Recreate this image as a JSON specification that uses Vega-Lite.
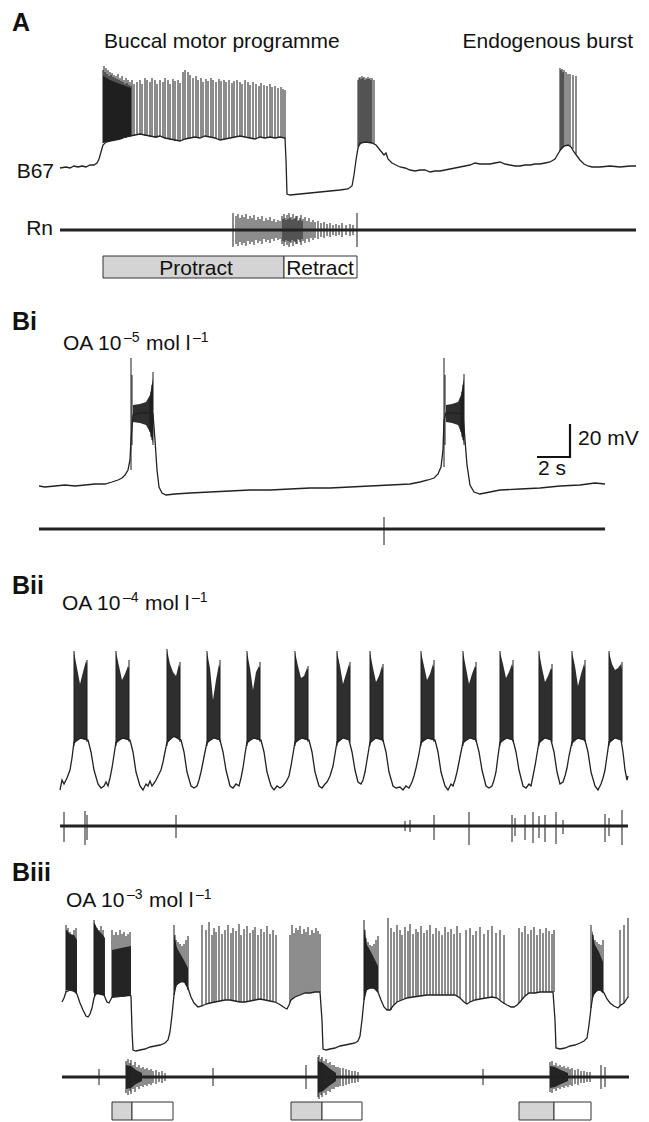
{
"$schema": "https://vega.github.io/schema/vega-lite/v6.json",
"width": 649, "height": 1122,
"autosize": {"type": "fit", "contains": "padding"},
"padding": 0,
"background": "white",
"config": {"view": {"stroke": null}, "font": "Liberation Sans"},
"datasets": {
"tr": [
{"t":"A","x":60,"y":168},{"t":"A","x":66,"y":167},{"t":"A","x":70,"y":168},{"t":"A","x":74,"y":166},{"t":"A","x":78,"y":167},{"t":"A","x":82,"y":166},{"t":"A","x":86,"y":167},{"t":"A","x":90,"y":165},{"t":"A","x":94,"y":165},{"t":"A","x":97,"y":163},{"t":"A","x":99,"y":159},{"t":"A","x":101,"y":152},{"t":"A","x":103,"y":145},{"t":"A","x":106,"y":142},{"t":"A","x":110,"y":141},{"t":"A","x":115,"y":140},{"t":"A","x":120,"y":139},{"t":"A","x":125,"y":137},{"t":"A","x":130,"y":136},{"t":"A","x":135,"y":135},{"t":"A","x":140,"y":134},{"t":"A","x":145,"y":135},{"t":"A","x":150,"y":136},{"t":"A","x":155,"y":137},{"t":"A","x":160,"y":136},{"t":"A","x":165,"y":138},{"t":"A","x":170,"y":139},{"t":"A","x":175,"y":140},{"t":"A","x":180,"y":141},{"t":"A","x":185,"y":139},{"t":"A","x":190,"y":138},{"t":"A","x":195,"y":137},{"t":"A","x":200,"y":138},{"t":"A","x":205,"y":136},{"t":"A","x":210,"y":137},{"t":"A","x":215,"y":138},{"t":"A","x":220,"y":140},{"t":"A","x":225,"y":139},{"t":"A","x":230,"y":138},{"t":"A","x":235,"y":137},{"t":"A","x":240,"y":136},{"t":"A","x":245,"y":137},{"t":"A","x":250,"y":138},{"t":"A","x":255,"y":139},{"t":"A","x":260,"y":137},{"t":"A","x":265,"y":138},{"t":"A","x":270,"y":137},{"t":"A","x":275,"y":138},{"t":"A","x":280,"y":137},{"t":"A","x":285,"y":138},{"t":"A","x":286,"y":160},{"t":"A","x":287,"y":194},{"t":"A","x":290,"y":195},{"t":"A","x":300,"y":194},{"t":"A","x":310,"y":193},{"t":"A","x":320,"y":192},{"t":"A","x":330,"y":191},{"t":"A","x":340,"y":190},{"t":"A","x":348,"y":189},{"t":"A","x":352,"y":186},{"t":"A","x":354,"y":175},{"t":"A","x":356,"y":160},{"t":"A","x":358,"y":148},{"t":"A","x":360,"y":143},{"t":"A","x":366,"y":142},{"t":"A","x":372,"y":143},{"t":"A","x":376,"y":145},{"t":"A","x":380,"y":150},{"t":"A","x":384,"y":155},{"t":"A","x":386,"y":153},{"t":"A","x":388,"y":159},{"t":"A","x":392,"y":163},{"t":"A","x":396,"y":165},{"t":"A","x":400,"y":167},{"t":"A","x":405,"y":168},{"t":"A","x":410,"y":170},{"t":"A","x":415,"y":171},{"t":"A","x":420,"y":170},{"t":"A","x":425,"y":170},{"t":"A","x":430,"y":172},{"t":"A","x":435,"y":171},{"t":"A","x":440,"y":171},{"t":"A","x":445,"y":170},{"t":"A","x":450,"y":169},{"t":"A","x":455,"y":168},{"t":"A","x":460,"y":167},{"t":"A","x":465,"y":166},{"t":"A","x":470,"y":165},{"t":"A","x":475,"y":163},{"t":"A","x":480,"y":164},{"t":"A","x":485,"y":164},{"t":"A","x":490,"y":164},{"t":"A","x":495,"y":163},{"t":"A","x":500,"y":162},{"t":"A","x":505,"y":164},{"t":"A","x":510,"y":165},{"t":"A","x":515,"y":166},{"t":"A","x":520,"y":166},{"t":"A","x":525,"y":165},{"t":"A","x":530,"y":165},{"t":"A","x":535,"y":164},{"t":"A","x":540,"y":164},{"t":"A","x":545,"y":163},{"t":"A","x":550,"y":162},{"t":"A","x":555,"y":159},{"t":"A","x":558,"y":154},{"t":"A","x":561,"y":149},{"t":"A","x":564,"y":146},{"t":"A","x":568,"y":145},{"t":"A","x":571,"y":147},{"t":"A","x":574,"y":152},{"t":"A","x":577,"y":156},{"t":"A","x":580,"y":160},{"t":"A","x":584,"y":164},{"t":"A","x":588,"y":166},{"t":"A","x":592,"y":167},{"t":"A","x":600,"y":167},{"t":"A","x":610,"y":166},{"t":"A","x":620,"y":167},{"t":"A","x":630,"y":166},{"t":"A","x":636,"y":166},
{"t":"Bi","x":39,"y":486},{"t":"Bi","x":45,"y":487},{"t":"Bi","x":55,"y":486},{"t":"Bi","x":65,"y":485},{"t":"Bi","x":75,"y":486},{"t":"Bi","x":85,"y":485},{"t":"Bi","x":95,"y":484},{"t":"Bi","x":105,"y":484},{"t":"Bi","x":112,"y":482},{"t":"Bi","x":118,"y":480},{"t":"Bi","x":122,"y":478},{"t":"Bi","x":125,"y":475},{"t":"Bi","x":128,"y":470},{"t":"Bi","x":130,"y":460},{"t":"Bi","x":131,"y":440},{"t":"Bi","x":133,"y":415},{"t":"Bi","x":140,"y":413},{"t":"Bi","x":147,"y":413},{"t":"Bi","x":153,"y":414},{"t":"Bi","x":155,"y":440},{"t":"Bi","x":157,"y":470},{"t":"Bi","x":159,"y":487},{"t":"Bi","x":162,"y":493},{"t":"Bi","x":166,"y":495},{"t":"Bi","x":175,"y":494},{"t":"Bi","x":190,"y":493},{"t":"Bi","x":210,"y":492},{"t":"Bi","x":230,"y":491},{"t":"Bi","x":250,"y":490},{"t":"Bi","x":270,"y":490},{"t":"Bi","x":290,"y":489},{"t":"Bi","x":310,"y":488},{"t":"Bi","x":330,"y":488},{"t":"Bi","x":350,"y":487},{"t":"Bi","x":370,"y":486},{"t":"Bi","x":390,"y":485},{"t":"Bi","x":410,"y":484},{"t":"Bi","x":420,"y":482},{"t":"Bi","x":428,"y":480},{"t":"Bi","x":434,"y":478},{"t":"Bi","x":438,"y":474},{"t":"Bi","x":441,"y":467},{"t":"Bi","x":443,"y":450},{"t":"Bi","x":444,"y":420},{"t":"Bi","x":446,"y":413},{"t":"Bi","x":455,"y":413},{"t":"Bi","x":463,"y":414},{"t":"Bi","x":465,"y":440},{"t":"Bi","x":467,"y":465},{"t":"Bi","x":470,"y":485},{"t":"Bi","x":474,"y":492},{"t":"Bi","x":480,"y":494},{"t":"Bi","x":490,"y":492},{"t":"Bi","x":500,"y":490},{"t":"Bi","x":520,"y":489},{"t":"Bi","x":540,"y":488},{"t":"Bi","x":560,"y":486},{"t":"Bi","x":580,"y":485},{"t":"Bi","x":595,"y":483},{"t":"Bi","x":605,"y":484},
{"t":"Bii","x":60,"y":790},{"t":"Bii","x":62,"y":780},{"t":"Bii","x":64,"y":784},{"t":"Bii","x":67,"y":778},{"t":"Bii","x":70,"y":770},{"t":"Bii","x":72,"y":758},{"t":"Bii","x":74,"y":742},{"t":"Bii","x":81,"y":738},{"t":"Bii","x":88,"y":740},{"t":"Bii","x":91,"y":752},{"t":"Bii","x":94,"y":770},{"t":"Bii","x":98,"y":784},{"t":"Bii","x":101,"y":788},{"t":"Bii","x":104,"y":786},{"t":"Bii","x":106,"y":782},{"t":"Bii","x":108,"y":786},{"t":"Bii","x":110,"y":778},{"t":"Bii","x":112,"y":768},{"t":"Bii","x":114,"y":755},{"t":"Bii","x":116,"y":742},{"t":"Bii","x":123,"y":738},{"t":"Bii","x":130,"y":740},{"t":"Bii","x":133,"y":752},{"t":"Bii","x":136,"y":772},{"t":"Bii","x":140,"y":786},{"t":"Bii","x":143,"y":790},{"t":"Bii","x":146,"y":784},{"t":"Bii","x":148,"y":786},{"t":"Bii","x":150,"y":781},{"t":"Bii","x":152,"y":786},{"t":"Bii","x":155,"y":782},{"t":"Bii","x":157,"y":778},{"t":"Bii","x":159,"y":774},{"t":"Bii","x":161,"y":770},{"t":"Bii","x":163,"y":762},{"t":"Bii","x":165,"y":752},{"t":"Bii","x":167,"y":742},{"t":"Bii","x":174,"y":736},{"t":"Bii","x":181,"y":740},{"t":"Bii","x":184,"y":752},{"t":"Bii","x":187,"y":772},{"t":"Bii","x":191,"y":786},{"t":"Bii","x":194,"y":788},{"t":"Bii","x":197,"y":786},{"t":"Bii","x":199,"y":780},{"t":"Bii","x":201,"y":772},{"t":"Bii","x":203,"y":762},{"t":"Bii","x":205,"y":752},{"t":"Bii","x":207,"y":742},{"t":"Bii","x":214,"y":738},{"t":"Bii","x":220,"y":740},{"t":"Bii","x":223,"y":752},{"t":"Bii","x":226,"y":770},{"t":"Bii","x":230,"y":786},{"t":"Bii","x":233,"y":788},{"t":"Bii","x":236,"y":784},{"t":"Bii","x":239,"y":786},{"t":"Bii","x":241,"y":778},{"t":"Bii","x":243,"y":768},{"t":"Bii","x":245,"y":754},{"t":"Bii","x":247,"y":742},{"t":"Bii","x":254,"y":738},{"t":"Bii","x":261,"y":740},{"t":"Bii","x":264,"y":752},{"t":"Bii","x":267,"y":772},{"t":"Bii","x":271,"y":786},{"t":"Bii","x":274,"y":790},{"t":"Bii","x":277,"y":786},{"t":"Bii","x":280,"y":788},{"t":"Bii","x":283,"y":786},{"t":"Bii","x":286,"y":782},{"t":"Bii","x":289,"y":776},{"t":"Bii","x":291,"y":766},{"t":"Bii","x":293,"y":754},{"t":"Bii","x":295,"y":742},{"t":"Bii","x":302,"y":738},{"t":"Bii","x":309,"y":740},{"t":"Bii","x":312,"y":752},{"t":"Bii","x":315,"y":772},{"t":"Bii","x":319,"y":786},{"t":"Bii","x":322,"y":788},{"t":"Bii","x":325,"y":784},{"t":"Bii","x":327,"y":782},{"t":"Bii","x":330,"y":776},{"t":"Bii","x":333,"y":766},{"t":"Bii","x":335,"y":754},{"t":"Bii","x":337,"y":742},{"t":"Bii","x":343,"y":738},{"t":"Bii","x":349,"y":740},{"t":"Bii","x":352,"y":752},{"t":"Bii","x":355,"y":770},{"t":"Bii","x":358,"y":782},{"t":"Bii","x":361,"y":784},{"t":"Bii","x":363,"y":780},{"t":"Bii","x":365,"y":772},{"t":"Bii","x":367,"y":760},{"t":"Bii","x":370,"y":742},{"t":"Bii","x":376,"y":738},{"t":"Bii","x":383,"y":740},{"t":"Bii","x":386,"y":752},{"t":"Bii","x":389,"y":772},{"t":"Bii","x":393,"y":786},{"t":"Bii","x":396,"y":788},{"t":"Bii","x":400,"y":787},{"t":"Bii","x":403,"y":790},{"t":"Bii","x":406,"y":786},{"t":"Bii","x":409,"y":788},{"t":"Bii","x":412,"y":782},{"t":"Bii","x":414,"y":776},{"t":"Bii","x":416,"y":768},{"t":"Bii","x":419,"y":754},{"t":"Bii","x":421,"y":742},{"t":"Bii","x":428,"y":738},{"t":"Bii","x":435,"y":740},{"t":"Bii","x":438,"y":752},{"t":"Bii","x":441,"y":772},{"t":"Bii","x":445,"y":786},{"t":"Bii","x":448,"y":790},{"t":"Bii","x":451,"y":784},{"t":"Bii","x":453,"y":786},{"t":"Bii","x":455,"y":780},{"t":"Bii","x":457,"y":772},{"t":"Bii","x":459,"y":762},{"t":"Bii","x":461,"y":752},{"t":"Bii","x":463,"y":742},{"t":"Bii","x":470,"y":738},{"t":"Bii","x":476,"y":740},{"t":"Bii","x":479,"y":752},{"t":"Bii","x":482,"y":770},{"t":"Bii","x":486,"y":786},{"t":"Bii","x":489,"y":788},{"t":"Bii","x":492,"y":786},{"t":"Bii","x":494,"y":780},{"t":"Bii","x":496,"y":772},{"t":"Bii","x":498,"y":756},{"t":"Bii","x":500,"y":742},{"t":"Bii","x":507,"y":738},{"t":"Bii","x":513,"y":740},{"t":"Bii","x":516,"y":752},{"t":"Bii","x":519,"y":770},{"t":"Bii","x":523,"y":786},{"t":"Bii","x":526,"y":788},{"t":"Bii","x":529,"y":784},{"t":"Bii","x":531,"y":786},{"t":"Bii","x":533,"y":776},{"t":"Bii","x":535,"y":766},{"t":"Bii","x":537,"y":754},{"t":"Bii","x":539,"y":742},{"t":"Bii","x":545,"y":738},{"t":"Bii","x":551,"y":740},{"t":"Bii","x":554,"y":752},{"t":"Bii","x":557,"y":772},{"t":"Bii","x":560,"y":784},{"t":"Bii","x":563,"y":782},{"t":"Bii","x":565,"y":776},{"t":"Bii","x":567,"y":768},{"t":"Bii","x":569,"y":756},{"t":"Bii","x":572,"y":742},{"t":"Bii","x":578,"y":738},{"t":"Bii","x":585,"y":740},{"t":"Bii","x":588,"y":752},{"t":"Bii","x":591,"y":772},{"t":"Bii","x":595,"y":786},{"t":"Bii","x":598,"y":790},{"t":"Bii","x":601,"y":784},{"t":"Bii","x":603,"y":778},{"t":"Bii","x":605,"y":770},{"t":"Bii","x":607,"y":756},{"t":"Bii","x":609,"y":742},{"t":"Bii","x":615,"y":738},{"t":"Bii","x":621,"y":740},{"t":"Bii","x":623,"y":752},{"t":"Bii","x":625,"y":770},{"t":"Bii","x":627,"y":780},{"t":"Bii","x":628,"y":776},
{"t":"Biii","x":62,"y":1002},{"t":"Biii","x":64,"y":998},{"t":"Biii","x":66,"y":992},{"t":"Biii","x":70,"y":990},{"t":"Biii","x":74,"y":991},{"t":"Biii","x":77,"y":994},{"t":"Biii","x":80,"y":1003},{"t":"Biii","x":83,"y":1010},{"t":"Biii","x":86,"y":1016},{"t":"Biii","x":88,"y":1017},{"t":"Biii","x":90,"y":1014},{"t":"Biii","x":92,"y":1008},{"t":"Biii","x":94,"y":998},{"t":"Biii","x":96,"y":993},{"t":"Biii","x":100,"y":994},{"t":"Biii","x":104,"y":995},{"t":"Biii","x":107,"y":1002},{"t":"Biii","x":109,"y":1003},{"t":"Biii","x":112,"y":997},{"t":"Biii","x":116,"y":996},{"t":"Biii","x":120,"y":995},{"t":"Biii","x":124,"y":996},{"t":"Biii","x":128,"y":995},{"t":"Biii","x":131,"y":996},{"t":"Biii","x":132,"y":1030},{"t":"Biii","x":133,"y":1050},{"t":"Biii","x":136,"y":1051},{"t":"Biii","x":140,"y":1050},{"t":"Biii","x":145,"y":1049},{"t":"Biii","x":150,"y":1047},{"t":"Biii","x":155,"y":1046},{"t":"Biii","x":160,"y":1045},{"t":"Biii","x":165,"y":1043},{"t":"Biii","x":168,"y":1040},{"t":"Biii","x":170,"y":1032},{"t":"Biii","x":172,"y":1015},{"t":"Biii","x":174,"y":995},{"t":"Biii","x":176,"y":985},{"t":"Biii","x":180,"y":982},{"t":"Biii","x":184,"y":981},{"t":"Biii","x":188,"y":988},{"t":"Biii","x":191,"y":997},{"t":"Biii","x":194,"y":1003},{"t":"Biii","x":198,"y":1007},{"t":"Biii","x":202,"y":1006},{"t":"Biii","x":206,"y":1004},{"t":"Biii","x":210,"y":1003},{"t":"Biii","x":215,"y":1002},{"t":"Biii","x":220,"y":1001},{"t":"Biii","x":225,"y":1000},{"t":"Biii","x":230,"y":1000},{"t":"Biii","x":235,"y":1001},{"t":"Biii","x":240,"y":1002},{"t":"Biii","x":245,"y":1002},{"t":"Biii","x":250,"y":1001},{"t":"Biii","x":255,"y":1000},{"t":"Biii","x":260,"y":999},{"t":"Biii","x":265,"y":1000},{"t":"Biii","x":270,"y":1001},{"t":"Biii","x":275,"y":1002},{"t":"Biii","x":279,"y":1004},{"t":"Biii","x":282,"y":1006},{"t":"Biii","x":285,"y":1008},{"t":"Biii","x":287,"y":1009},{"t":"Biii","x":289,"y":1005},{"t":"Biii","x":291,"y":1000},{"t":"Biii","x":295,"y":997},{"t":"Biii","x":300,"y":995},{"t":"Biii","x":305,"y":993},{"t":"Biii","x":310,"y":993},{"t":"Biii","x":315,"y":992},{"t":"Biii","x":320,"y":992},{"t":"Biii","x":322,"y":1020},{"t":"Biii","x":323,"y":1049},{"t":"Biii","x":326,"y":1050},{"t":"Biii","x":330,"y":1049},{"t":"Biii","x":335,"y":1048},{"t":"Biii","x":340,"y":1046},{"t":"Biii","x":345,"y":1045},{"t":"Biii","x":350,"y":1044},{"t":"Biii","x":355,"y":1043},{"t":"Biii","x":358,"y":1041},{"t":"Biii","x":360,"y":1036},{"t":"Biii","x":362,"y":1020},{"t":"Biii","x":364,"y":1000},{"t":"Biii","x":366,"y":990},{"t":"Biii","x":370,"y":988},{"t":"Biii","x":374,"y":988},{"t":"Biii","x":378,"y":992},{"t":"Biii","x":381,"y":1000},{"t":"Biii","x":384,"y":1007},{"t":"Biii","x":387,"y":1010},{"t":"Biii","x":390,"y":1010},{"t":"Biii","x":393,"y":1006},{"t":"Biii","x":397,"y":1002},{"t":"Biii","x":402,"y":1000},{"t":"Biii","x":407,"y":998},{"t":"Biii","x":413,"y":997},{"t":"Biii","x":420,"y":996},{"t":"Biii","x":427,"y":995},{"t":"Biii","x":434,"y":995},{"t":"Biii","x":441,"y":995},{"t":"Biii","x":448,"y":995},{"t":"Biii","x":455,"y":995},{"t":"Biii","x":460,"y":998},{"t":"Biii","x":464,"y":1002},{"t":"Biii","x":467,"y":1004},{"t":"Biii","x":470,"y":1002},{"t":"Biii","x":475,"y":1000},{"t":"Biii","x":480,"y":999},{"t":"Biii","x":486,"y":998},{"t":"Biii","x":492,"y":997},{"t":"Biii","x":497,"y":998},{"t":"Biii","x":502,"y":1002},{"t":"Biii","x":507,"y":1005},{"t":"Biii","x":511,"y":1007},{"t":"Biii","x":514,"y":1007},{"t":"Biii","x":517,"y":1005},{"t":"Biii","x":520,"y":1002},{"t":"Biii","x":524,"y":997},{"t":"Biii","x":529,"y":993},{"t":"Biii","x":535,"y":993},{"t":"Biii","x":540,"y":992},{"t":"Biii","x":546,"y":992},{"t":"Biii","x":553,"y":992},{"t":"Biii","x":555,"y":1020},{"t":"Biii","x":556,"y":1048},{"t":"Biii","x":560,"y":1049},{"t":"Biii","x":565,"y":1048},{"t":"Biii","x":570,"y":1046},{"t":"Biii","x":575,"y":1045},{"t":"Biii","x":580,"y":1043},{"t":"Biii","x":584,"y":1041},{"t":"Biii","x":587,"y":1038},{"t":"Biii","x":589,"y":1025},{"t":"Biii","x":591,"y":1008},{"t":"Biii","x":593,"y":995},{"t":"Biii","x":597,"y":990},{"t":"Biii","x":601,"y":990},{"t":"Biii","x":604,"y":993},{"t":"Biii","x":607,"y":999},{"t":"Biii","x":610,"y":1003},{"t":"Biii","x":614,"y":1006},{"t":"Biii","x":618,"y":1008},{"t":"Biii","x":621,"y":1005},{"t":"Biii","x":624,"y":1003},{"t":"Biii","x":626,"y":1000},{"t":"Biii","x":628,"y":997}
],
"rn": [
{"t":"A","x":60,"y":230},{"t":"A","x":636,"y":230},
{"t":"Bi","x":39,"y":529},{"t":"Bi","x":605,"y":529},
{"t":"Bii","x":60,"y":826},{"t":"Bii","x":628,"y":826},
{"t":"Biii","x":62,"y":1077},{"t":"Biii","x":629,"y":1077}
],
"sp": [
{"x":103,"y":70,"y2":143},{"x":104,"y":66,"y2":142},{"x":105,"y":72,"y2":142},{"x":106,"y":68,"y2":142},{"x":107,"y":74,"y2":141},{"x":108,"y":70,"y2":141},{"x":109,"y":76,"y2":141},{"x":110,"y":72,"y2":141},{"x":111,"y":75,"y2":141},{"x":112,"y":73,"y2":140},{"x":113,"y":77,"y2":140},{"x":114,"y":75,"y2":140},{"x":115,"y":78,"y2":140},{"x":116,"y":76,"y2":140},{"x":117,"y":79,"y2":140},{"x":118,"y":74,"y2":140},{"x":119,"y":80,"y2":139},{"x":120,"y":78,"y2":139},{"x":121,"y":81,"y2":139},{"x":122,"y":76,"y2":139},{"x":123,"y":82,"y2":138},{"x":124,"y":80,"y2":138},{"x":125,"y":84,"y2":138},{"x":126,"y":78,"y2":138},{"x":127,"y":83,"y2":137},{"x":128,"y":80,"y2":137},{"x":129,"y":85,"y2":137},{"x":130,"y":82,"y2":137},{"x":131,"y":86,"y2":136},{"x":132,"y":80,"y2":136},{"x":134,"y":84,"y2":136},{"x":137,"y":82,"y2":135},{"x":140,"y":80,"y2":135},{"x":142,"y":84,"y2":135},{"x":145,"y":78,"y2":136},{"x":147,"y":80,"y2":136},{"x":150,"y":82,"y2":137},{"x":152,"y":78,"y2":137},{"x":155,"y":80,"y2":138},{"x":157,"y":84,"y2":138},{"x":160,"y":80,"y2":137},{"x":163,"y":82,"y2":138},{"x":165,"y":78,"y2":139},{"x":168,"y":80,"y2":139},{"x":170,"y":84,"y2":140},{"x":173,"y":79,"y2":140},{"x":175,"y":81,"y2":141},{"x":178,"y":80,"y2":141},{"x":180,"y":83,"y2":141},{"x":183,"y":72,"y2":140},{"x":185,"y":70,"y2":139},{"x":188,"y":72,"y2":138},{"x":190,"y":75,"y2":138},{"x":193,"y":78,"y2":137},{"x":196,"y":76,"y2":138},{"x":198,"y":80,"y2":138},{"x":201,"y":78,"y2":137},{"x":203,"y":82,"y2":137},{"x":206,"y":79,"y2":137},{"x":208,"y":81,"y2":137},{"x":211,"y":78,"y2":138},{"x":213,"y":80,"y2":138},{"x":216,"y":82,"y2":139},{"x":219,"y":79,"y2":140},{"x":221,"y":81,"y2":140},{"x":224,"y":80,"y2":139},{"x":226,"y":82,"y2":139},{"x":229,"y":80,"y2":138},{"x":232,"y":83,"y2":138},{"x":234,"y":81,"y2":137},{"x":237,"y":80,"y2":137},{"x":240,"y":82,"y2":136},{"x":242,"y":84,"y2":137},{"x":245,"y":80,"y2":137},{"x":248,"y":82,"y2":138},{"x":250,"y":85,"y2":138},{"x":253,"y":82,"y2":139},{"x":256,"y":84,"y2":139},{"x":259,"y":86,"y2":138},{"x":261,"y":83,"y2":137},{"x":264,"y":85,"y2":138},{"x":267,"y":86,"y2":138},{"x":270,"y":84,"y2":137},{"x":272,"y":87,"y2":138},{"x":275,"y":86,"y2":138},{"x":278,"y":88,"y2":138},{"x":281,"y":87,"y2":137},{"x":283,"y":89,"y2":138},{"x":285,"y":90,"y2":139},
{"x":358,"y":80,"y2":147},{"x":359,"y":78,"y2":146},{"x":360,"y":77,"y2":145},{"x":361,"y":79,"y2":144},{"x":362,"y":76,"y2":143},{"x":363,"y":78,"y2":143},{"x":364,"y":77,"y2":143},{"x":365,"y":80,"y2":142},{"x":366,"y":78,"y2":142},{"x":367,"y":79,"y2":142},{"x":368,"y":77,"y2":142},{"x":369,"y":79,"y2":142},{"x":370,"y":78,"y2":143},{"x":371,"y":80,"y2":143},{"x":372,"y":78,"y2":143},{"x":374,"y":80,"y2":144},
{"x":560,"y":68,"y2":151},{"x":561,"y":70,"y2":150},{"x":562,"y":69,"y2":149},{"x":563,"y":72,"y2":148},{"x":564,"y":70,"y2":147},{"x":566,"y":72,"y2":146},{"x":568,"y":74,"y2":145},{"x":570,"y":74,"y2":146},{"x":573,"y":75,"y2":149},{"x":576,"y":76,"y2":154},
{"x":233,"y":213,"y2":247},{"x":236,"y":216,"y2":244},{"x":238,"y":214,"y2":246},{"x":240,"y":218,"y2":242},{"x":242,"y":215,"y2":245},{"x":244,"y":217,"y2":243},{"x":246,"y":214,"y2":246},{"x":248,"y":219,"y2":241},{"x":250,"y":216,"y2":244},{"x":252,"y":218,"y2":242},{"x":254,"y":215,"y2":245},{"x":256,"y":220,"y2":240},{"x":258,"y":217,"y2":243},{"x":260,"y":219,"y2":241},{"x":262,"y":216,"y2":244},{"x":264,"y":221,"y2":239},{"x":266,"y":218,"y2":242},{"x":268,"y":220,"y2":240},{"x":270,"y":217,"y2":243},{"x":272,"y":221,"y2":239},{"x":274,"y":219,"y2":241},{"x":276,"y":222,"y2":238},{"x":278,"y":220,"y2":240},{"x":280,"y":221,"y2":239},{"x":282,"y":216,"y2":244},{"x":283,"y":219,"y2":241},{"x":284,"y":214,"y2":246},{"x":285,"y":218,"y2":242},{"x":286,"y":220,"y2":240},{"x":287,"y":215,"y2":245},{"x":288,"y":219,"y2":241},{"x":289,"y":213,"y2":247},{"x":290,"y":218,"y2":242},{"x":291,"y":217,"y2":243},{"x":292,"y":220,"y2":240},{"x":293,"y":214,"y2":246},{"x":294,"y":219,"y2":241},{"x":295,"y":218,"y2":242},{"x":296,"y":216,"y2":244},{"x":297,"y":216,"y2":244},{"x":298,"y":221,"y2":239},{"x":299,"y":220,"y2":240},{"x":300,"y":218,"y2":242},{"x":301,"y":215,"y2":245},{"x":302,"y":221,"y2":239},{"x":303,"y":219,"y2":241},{"x":305,"y":217,"y2":243},{"x":307,"y":221,"y2":239},{"x":309,"y":218,"y2":242},{"x":311,"y":222,"y2":238},{"x":313,"y":220,"y2":240},{"x":315,"y":222,"y2":238},{"x":318,"y":221,"y2":239},{"x":321,"y":223,"y2":237},{"x":324,"y":222,"y2":238},{"x":327,"y":224,"y2":236},{"x":330,"y":223,"y2":237},{"x":333,"y":225,"y2":235},{"x":336,"y":224,"y2":236},{"x":339,"y":225,"y2":235},{"x":342,"y":223,"y2":237},{"x":346,"y":225,"y2":235},{"x":350,"y":224,"y2":236},{"x":353,"y":225,"y2":235},{"x":357,"y":213,"y2":247},
{"x":131,"y":358,"y2":470},{"x":132,"y":375,"y2":445},{"x":150,"y":398,"y2":432},{"x":151,"y":392,"y2":437},{"x":152,"y":385,"y2":440},{"x":153,"y":372,"y2":445},{"x":444,"y":358,"y2":467},{"x":445,"y":375,"y2":445},{"x":461,"y":398,"y2":432},{"x":462,"y":392,"y2":437},{"x":463,"y":385,"y2":440},{"x":464,"y":374,"y2":445},
{"x":384,"y":517,"y2":545},
{"x":74,"y":651,"y2":746},{"x":87,"y":660,"y2":742},
{"x":116,"y":651,"y2":746},{"x":129,"y":660,"y2":742},
{"x":167,"y":649,"y2":746},{"x":180,"y":662,"y2":742},
{"x":207,"y":651,"y2":746},{"x":220,"y":660,"y2":742},
{"x":247,"y":651,"y2":746},{"x":260,"y":662,"y2":742},
{"x":295,"y":651,"y2":746},{"x":308,"y":666,"y2":742},
{"x":337,"y":651,"y2":746},{"x":350,"y":662,"y2":742},
{"x":370,"y":651,"y2":746},{"x":383,"y":664,"y2":742},
{"x":421,"y":651,"y2":746},{"x":434,"y":660,"y2":742},
{"x":463,"y":651,"y2":746},{"x":476,"y":662,"y2":742},
{"x":500,"y":651,"y2":746},{"x":513,"y":660,"y2":742},
{"x":539,"y":651,"y2":746},{"x":552,"y":664,"y2":742},
{"x":572,"y":651,"y2":746},{"x":585,"y":660,"y2":742},
{"x":609,"y":651,"y2":746},{"x":622,"y":662,"y2":742},
{"x":64,"y":812,"y2":842},{"x":85,"y":811,"y2":845},{"x":87,"y":815,"y2":840},{"x":176,"y":815,"y2":838},{"x":405,"y":821,"y2":831},{"x":410,"y":820,"y2":832},{"x":434,"y":815,"y2":840},{"x":469,"y":812,"y2":845},{"x":512,"y":815,"y2":842},{"x":515,"y":818,"y2":836},{"x":525,"y":815,"y2":840},{"x":533,"y":812,"y2":843},{"x":539,"y":816,"y2":838},{"x":545,"y":815,"y2":842},{"x":556,"y":812,"y2":844},{"x":563,"y":820,"y2":834},{"x":605,"y":814,"y2":842},{"x":609,"y":818,"y2":836},{"x":622,"y":810,"y2":845},
{"x":66,"y":925,"y2":992},{"x":67,"y":930,"y2":990},{"x":68,"y":928,"y2":990},{"x":70,"y":932,"y2":990},{"x":72,"y":935,"y2":990},{"x":74,"y":930,"y2":992},{"x":76,"y":928,"y2":993},
{"x":94,"y":920,"y2":993},{"x":95,"y":925,"y2":993},{"x":97,"y":928,"y2":994},{"x":99,"y":930,"y2":994},{"x":101,"y":926,"y2":995},{"x":103,"y":930,"y2":995},
{"x":112,"y":930,"y2":997},{"x":114,"y":935,"y2":997},{"x":116,"y":932,"y2":996},{"x":118,"y":935,"y2":996},{"x":120,"y":930,"y2":996},{"x":122,"y":934,"y2":995},{"x":124,"y":932,"y2":995},{"x":126,"y":936,"y2":995},{"x":128,"y":934,"y2":995},{"x":130,"y":932,"y2":995},
{"x":174,"y":925,"y2":995},{"x":175,"y":935,"y2":985},{"x":176,"y":940,"y2":983},{"x":178,"y":942,"y2":982},{"x":180,"y":944,"y2":981},{"x":182,"y":946,"y2":980},{"x":184,"y":944,"y2":982},{"x":186,"y":940,"y2":985},{"x":188,"y":936,"y2":990},
{"x":202,"y":925,"y2":1006},{"x":206,"y":930,"y2":1004},{"x":209,"y":922,"y2":1003},{"x":212,"y":935,"y2":1003},{"x":214,"y":928,"y2":1002},{"x":216,"y":932,"y2":1002},{"x":219,"y":926,"y2":1001},{"x":222,"y":934,"y2":1001},{"x":225,"y":930,"y2":1000},{"x":228,"y":925,"y2":1000},{"x":231,"y":933,"y2":1000},{"x":233,"y":928,"y2":1001},{"x":236,"y":931,"y2":1001},{"x":239,"y":924,"y2":1002},{"x":241,"y":935,"y2":1002},{"x":244,"y":929,"y2":1002},{"x":247,"y":926,"y2":1002},{"x":250,"y":933,"y2":1001},{"x":253,"y":930,"y2":1000},{"x":255,"y":927,"y2":1000},{"x":258,"y":935,"y2":999},{"x":261,"y":929,"y2":999},{"x":264,"y":932,"y2":1000},{"x":267,"y":926,"y2":1000},{"x":270,"y":934,"y2":1001},{"x":273,"y":930,"y2":1001},{"x":276,"y":935,"y2":1002},{"x":290,"y":935,"y2":1002},{"x":292,"y":925,"y2":999},{"x":294,"y":933,"y2":998},{"x":296,"y":928,"y2":997},{"x":298,"y":930,"y2":996},{"x":300,"y":926,"y2":995},{"x":302,"y":934,"y2":994},{"x":304,"y":929,"y2":993},{"x":306,"y":932,"y2":993},{"x":308,"y":927,"y2":993},{"x":310,"y":935,"y2":993},{"x":312,"y":930,"y2":993},{"x":314,"y":933,"y2":992},{"x":316,"y":928,"y2":992},{"x":318,"y":931,"y2":992},{"x":320,"y":934,"y2":992},
{"x":364,"y":920,"y2":1000},{"x":365,"y":930,"y2":995},{"x":366,"y":938,"y2":990},{"x":368,"y":942,"y2":989},{"x":370,"y":945,"y2":988},{"x":372,"y":946,"y2":988},{"x":374,"y":944,"y2":988},{"x":376,"y":940,"y2":990},{"x":378,"y":936,"y2":992},
{"x":388,"y":918,"y2":1010},{"x":391,"y":928,"y2":1010},{"x":394,"y":932,"y2":1005},{"x":397,"y":925,"y2":1002},{"x":400,"y":930,"y2":1001},{"x":402,"y":935,"y2":1000},{"x":405,"y":927,"y2":999},{"x":408,"y":931,"y2":998},{"x":410,"y":924,"y2":998},{"x":413,"y":934,"y2":997},{"x":416,"y":929,"y2":997},{"x":418,"y":932,"y2":996},{"x":421,"y":926,"y2":996},{"x":424,"y":933,"y2":996},{"x":427,"y":930,"y2":995},{"x":430,"y":925,"y2":995},{"x":433,"y":934,"y2":995},{"x":436,"y":928,"y2":995},{"x":439,"y":931,"y2":995},{"x":442,"y":935,"y2":995},{"x":445,"y":927,"y2":995},{"x":448,"y":932,"y2":995},{"x":451,"y":929,"y2":995},{"x":454,"y":934,"y2":995},{"x":457,"y":926,"y2":996},{"x":460,"y":933,"y2":998},{"x":466,"y":930,"y2":1003},{"x":470,"y":928,"y2":1002},{"x":473,"y":935,"y2":1001},{"x":476,"y":931,"y2":1000},{"x":480,"y":927,"y2":999},{"x":484,"y":934,"y2":998},{"x":488,"y":930,"y2":998},{"x":492,"y":926,"y2":997},{"x":496,"y":933,"y2":998},{"x":500,"y":930,"y2":1000},{"x":504,"y":935,"y2":1004},{"x":519,"y":928,"y2":1003},{"x":522,"y":932,"y2":1000},{"x":525,"y":926,"y2":996},{"x":528,"y":934,"y2":994},{"x":531,"y":930,"y2":993},{"x":534,"y":927,"y2":993},{"x":537,"y":935,"y2":993},{"x":540,"y":929,"y2":992},{"x":543,"y":933,"y2":992},{"x":546,"y":928,"y2":992},{"x":549,"y":931,"y2":992},{"x":552,"y":934,"y2":992},{"x":554,"y":930,"y2":992},
{"x":591,"y":925,"y2":1008},{"x":593,"y":935,"y2":995},{"x":595,"y":940,"y2":993},{"x":597,"y":942,"y2":990},{"x":599,"y":944,"y2":990},{"x":601,"y":945,"y2":990},{"x":603,"y":940,"y2":993},
{"x":620,"y":930,"y2":1006},{"x":624,"y":925,"y2":1003},{"x":628,"y":918,"y2":998},
{"x":99,"y":1069,"y2":1085},{"x":126,"y":1061,"y2":1093},{"x":128,"y":1059,"y2":1095},{"x":130,"y":1063,"y2":1091},{"x":131,"y":1060,"y2":1094},{"x":133,"y":1065,"y2":1089},{"x":135,"y":1062,"y2":1092},{"x":137,"y":1067,"y2":1087},{"x":139,"y":1065,"y2":1089},{"x":141,"y":1068,"y2":1086},{"x":143,"y":1067,"y2":1087},{"x":145,"y":1069,"y2":1085},{"x":147,"y":1068,"y2":1086},{"x":149,"y":1070,"y2":1084},{"x":151,"y":1069,"y2":1085},{"x":153,"y":1071,"y2":1083},{"x":156,"y":1070,"y2":1084},{"x":159,"y":1072,"y2":1082},{"x":162,"y":1071,"y2":1083},{"x":165,"y":1073,"y2":1081},{"x":213,"y":1068,"y2":1086},{"x":306,"y":1065,"y2":1089},
{"x":318,"y":1057,"y2":1097},{"x":319,"y":1055,"y2":1099},{"x":321,"y":1059,"y2":1095},{"x":322,"y":1057,"y2":1097},{"x":324,"y":1061,"y2":1093},{"x":326,"y":1059,"y2":1095},{"x":328,"y":1063,"y2":1091},{"x":330,"y":1062,"y2":1092},{"x":332,"y":1065,"y2":1089},{"x":334,"y":1065,"y2":1089},{"x":336,"y":1067,"y2":1087},{"x":338,"y":1067,"y2":1087},{"x":340,"y":1068,"y2":1086},{"x":343,"y":1068,"y2":1086},{"x":346,"y":1069,"y2":1085},{"x":349,"y":1070,"y2":1084},{"x":352,"y":1071,"y2":1083},{"x":355,"y":1071,"y2":1083},{"x":358,"y":1072,"y2":1082},{"x":483,"y":1069,"y2":1085},
{"x":550,"y":1062,"y2":1092},{"x":552,"y":1061,"y2":1093},{"x":554,"y":1065,"y2":1089},{"x":556,"y":1063,"y2":1091},{"x":558,"y":1066,"y2":1088},{"x":560,"y":1065,"y2":1089},{"x":562,"y":1067,"y2":1087},{"x":564,"y":1066,"y2":1088},{"x":566,"y":1068,"y2":1086},{"x":568,"y":1067,"y2":1087},{"x":570,"y":1069,"y2":1085},{"x":572,"y":1068,"y2":1086},{"x":575,"y":1070,"y2":1084},{"x":578,"y":1069,"y2":1085},{"x":581,"y":1071,"y2":1083},{"x":584,"y":1071,"y2":1083},{"x":587,"y":1072,"y2":1082},{"x":590,"y":1072,"y2":1082},{"x":601,"y":1065,"y2":1089},{"x":605,"y":1067,"y2":1087}
],
"ar": [
{"b":"A1","x":103,"y":76,"y2":143},{"b":"A1","x":110,"y":80,"y2":141},{"b":"A1","x":120,"y":84,"y2":139},{"b":"A1","x":131,"y":88,"y2":136},
{"b":"Bi1","x":133,"y":405,"y2":422},{"b":"Bi1","x":140,"y":404,"y2":423},{"b":"Bi1","x":146,"y":402,"y2":425},{"b":"Bi1","x":150,"y":395,"y2":432},{"b":"Bi1","x":153,"y":378,"y2":443},
{"b":"Bi2","x":446,"y":405,"y2":422},{"b":"Bi2","x":452,"y":404,"y2":423},{"b":"Bi2","x":458,"y":402,"y2":425},{"b":"Bi2","x":461,"y":395,"y2":432},{"b":"Bi2","x":464,"y":378,"y2":443},
{"b":"b1","x":74,"y":652,"y2":744},{"b":"b1","x":77,"y":668,"y2":741},{"b":"b1","x":80,"y":684,"y2":738},{"b":"b1","x":83,"y":672,"y2":739},{"b":"b1","x":86,"y":661,"y2":740},{"b":"b1","x":87,"y":664,"y2":741},
{"b":"b2","x":116,"y":652,"y2":744},{"b":"b2","x":119,"y":666,"y2":741},{"b":"b2","x":122,"y":680,"y2":738},{"b":"b2","x":125,"y":674,"y2":739},{"b":"b2","x":128,"y":666,"y2":740},{"b":"b2","x":129,"y":668,"y2":741},
{"b":"b3","x":167,"y":650,"y2":744},{"b":"b3","x":170,"y":664,"y2":740},{"b":"b3","x":173,"y":672,"y2":737},{"b":"b3","x":176,"y":676,"y2":738},{"b":"b3","x":179,"y":664,"y2":740},{"b":"b3","x":180,"y":668,"y2":741},
{"b":"b4","x":207,"y":652,"y2":744},{"b":"b4","x":210,"y":668,"y2":741},{"b":"b4","x":213,"y":700,"y2":738},{"b":"b4","x":216,"y":680,"y2":739},{"b":"b4","x":219,"y":664,"y2":740},{"b":"b4","x":220,"y":668,"y2":741},
{"b":"b5","x":247,"y":652,"y2":744},{"b":"b5","x":250,"y":668,"y2":741},{"b":"b5","x":253,"y":690,"y2":738},{"b":"b5","x":256,"y":672,"y2":739},{"b":"b5","x":259,"y":666,"y2":740},{"b":"b5","x":260,"y":668,"y2":741},
{"b":"b6","x":295,"y":652,"y2":744},{"b":"b6","x":298,"y":666,"y2":741},{"b":"b6","x":301,"y":678,"y2":738},{"b":"b6","x":304,"y":676,"y2":739},{"b":"b6","x":307,"y":668,"y2":740},{"b":"b6","x":308,"y":670,"y2":741},
{"b":"b7","x":337,"y":652,"y2":744},{"b":"b7","x":340,"y":666,"y2":741},{"b":"b7","x":343,"y":684,"y2":738},{"b":"b7","x":346,"y":674,"y2":739},{"b":"b7","x":349,"y":664,"y2":740},{"b":"b7","x":350,"y":668,"y2":741},
{"b":"b8","x":370,"y":652,"y2":744},{"b":"b8","x":373,"y":668,"y2":741},{"b":"b8","x":376,"y":682,"y2":738},{"b":"b8","x":379,"y":676,"y2":739},{"b":"b8","x":382,"y":666,"y2":740},{"b":"b8","x":383,"y":670,"y2":741},
{"b":"b9","x":421,"y":652,"y2":744},{"b":"b9","x":424,"y":666,"y2":741},{"b":"b9","x":427,"y":680,"y2":738},{"b":"b9","x":430,"y":674,"y2":739},{"b":"b9","x":433,"y":664,"y2":740},{"b":"b9","x":434,"y":668,"y2":741},
{"b":"b10","x":463,"y":652,"y2":744},{"b":"b10","x":466,"y":668,"y2":741},{"b":"b10","x":469,"y":684,"y2":738},{"b":"b10","x":472,"y":674,"y2":739},{"b":"b10","x":475,"y":666,"y2":740},{"b":"b10","x":476,"y":668,"y2":741},
{"b":"b11","x":500,"y":652,"y2":744},{"b":"b11","x":503,"y":664,"y2":741},{"b":"b11","x":506,"y":678,"y2":738},{"b":"b11","x":509,"y":672,"y2":739},{"b":"b11","x":512,"y":664,"y2":740},{"b":"b11","x":513,"y":668,"y2":741},
{"b":"b12","x":539,"y":652,"y2":744},{"b":"b12","x":542,"y":668,"y2":741},{"b":"b12","x":545,"y":682,"y2":738},{"b":"b12","x":548,"y":676,"y2":739},{"b":"b12","x":551,"y":668,"y2":740},{"b":"b12","x":552,"y":670,"y2":741},
{"b":"b13","x":572,"y":652,"y2":744},{"b":"b13","x":575,"y":666,"y2":741},{"b":"b13","x":578,"y":686,"y2":738},{"b":"b13","x":581,"y":674,"y2":739},{"b":"b13","x":584,"y":664,"y2":740},{"b":"b13","x":585,"y":668,"y2":741},
{"b":"b14","x":609,"y":652,"y2":744},{"b":"b14","x":612,"y":664,"y2":741},{"b":"b14","x":615,"y":670,"y2":738},{"b":"b14","x":618,"y":668,"y2":739},{"b":"b14","x":621,"y":664,"y2":740},{"b":"b14","x":622,"y":670,"y2":741},
{"b":"c1","x":66,"y":930,"y2":990},{"b":"c1","x":70,"y":934,"y2":990},{"b":"c1","x":74,"y":935,"y2":991},{"b":"c1","x":77,"y":940,"y2":994},
{"b":"c2","x":94,"y":922,"y2":996},{"b":"c2","x":98,"y":930,"y2":994},{"b":"c2","x":102,"y":934,"y2":995},{"b":"c2","x":105,"y":938,"y2":996},
{"b":"c3","x":112,"y":950,"y2":998},{"b":"c3","x":121,"y":948,"y2":997},{"b":"c3","x":131,"y":946,"y2":996},
{"b":"c4","x":174,"y":935,"y2":992},{"b":"c4","x":177,"y":948,"y2":985},{"b":"c4","x":181,"y":955,"y2":982},{"b":"c4","x":185,"y":962,"y2":983},{"b":"c4","x":188,"y":968,"y2":990},
{"b":"c5","x":364,"y":928,"y2":1000},{"b":"c5","x":367,"y":945,"y2":990},{"b":"c5","x":371,"y":952,"y2":988},{"b":"c5","x":375,"y":960,"y2":989},{"b":"c5","x":378,"y":966,"y2":993},
{"b":"c6","x":592,"y":930,"y2":1000},{"b":"c6","x":595,"y":945,"y2":993},{"b":"c6","x":599,"y":952,"y2":990},{"b":"c6","x":603,"y":962,"y2":993},
{"b":"r1","x":126,"y":1065,"y2":1089},{"b":"r1","x":131,"y":1066,"y2":1088},{"b":"r1","x":136,"y":1070,"y2":1084},{"b":"r1","x":142,"y":1073,"y2":1081},
{"b":"r2","x":318,"y":1061,"y2":1093},{"b":"r2","x":323,"y":1063,"y2":1091},{"b":"r2","x":329,"y":1068,"y2":1086},{"b":"r2","x":336,"y":1073,"y2":1081},
{"b":"r3","x":550,"y":1066,"y2":1088},{"b":"r3","x":555,"y":1067,"y2":1087},{"b":"r3","x":561,"y":1070,"y2":1084},{"b":"r3","x":568,"y":1073,"y2":1081}
],
"bx": [
{"p":"protract","x":103,"x2":284,"y":256,"y2":278},{"p":"retract","x":284,"x2":357,"y":256,"y2":278},
{"p":"protract","x":112,"x2":132,"y":1102,"y2":1120},{"p":"retract","x":132,"x2":173,"y":1102,"y2":1120},
{"p":"protract","x":291,"x2":322,"y":1102,"y2":1120},{"p":"retract","x":322,"x2":362,"y":1102,"y2":1120},
{"p":"protract","x":519,"x2":554,"y":1102,"y2":1120},{"p":"retract","x":554,"x2":591,"y":1102,"y2":1120}
],
"sb": [
{"x":570,"x2":570,"y":424,"y2":458},
{"x":537,"x2":571,"y":457,"y2":457}
],
"lb": [
{"x":12,"y":31,"text":"A"},{"x":12,"y":330,"text":"Bi"},{"x":12,"y":594,"text":"Bii"},{"x":12,"y":881,"text":"Biii"}
],
"tl": [
{"x":104,"y":48,"text":"Buccal motor programme"},
{"x":578,"y":445,"text":"20 mV"},
{"x":538,"y":475,"text":"2 s"},
{"x":63,"y":350,"text":"OA 10"},{"x":146,"y":350,"text":"mol l"},
{"x":62,"y":610,"text":"OA 10"},{"x":145,"y":610,"text":"mol l"},
{"x":66,"y":907,"text":"OA 10"},{"x":149,"y":907,"text":"mol l"}
],
"ts": [
{"x":124,"y":342,"text":"–5"},{"x":193,"y":342,"text":"–1"},
{"x":123,"y":602,"text":"–4"},{"x":192,"y":602,"text":"–1"},
{"x":127,"y":899,"text":"–3"},{"x":196,"y":899,"text":"–1"}
],
"trt": [
{"x":633,"y":48,"text":"Endogenous burst"},
{"x":54,"y":178,"text":"B67"},
{"x":53,"y":235,"text":"Rn"}
],
"tc": [
{"x":196,"y":275,"text":"Protract"},
{"x":320,"y":275,"text":"Retract"}
]
},
"layer": [
{"data":{"name":"bx"},"mark":{"type":"rect","stroke":"#333","strokeWidth":1},
 "encoding":{"x":{"field":"x","type":"quantitative","scale":{"domain":[0,649],"nice":false,"zero":false},"axis":null},"x2":{"field":"x2"},
 "y":{"field":"y","type":"quantitative","scale":{"domain":[0,1122],"reverse":true,"nice":false,"zero":false},"axis":null},"y2":{"field":"y2"},
 "fill":{"field":"p","type":"nominal","scale":{"domain":["protract","retract"],"range":["#d4d4d4","#ffffff"]},"legend":null}}},
{"data":{"name":"ar"},"mark":{"type":"area","color":"#2e2e2e"},
 "encoding":{"x":{"field":"x","type":"quantitative","scale":{"domain":[0,649],"nice":false,"zero":false},"axis":null},
 "y":{"field":"y","type":"quantitative","scale":{"domain":[0,1122],"reverse":true,"nice":false,"zero":false},"axis":null},"y2":{"field":"y2"},"detail":{"field":"b"}}},
{"data":{"name":"sp"},"mark":{"type":"rule","color":"#1a1a1a","strokeWidth":1},
 "encoding":{"x":{"field":"x","type":"quantitative","scale":{"domain":[0,649],"nice":false,"zero":false},"axis":null},
 "y":{"field":"y","type":"quantitative","scale":{"domain":[0,1122],"reverse":true,"nice":false,"zero":false},"axis":null},"y2":{"field":"y2"}}},
{"data":{"name":"tr"},"mark":{"type":"line","color":"#222","strokeWidth":1.3},
 "encoding":{"x":{"field":"x","type":"quantitative","scale":{"domain":[0,649],"nice":false,"zero":false},"axis":null},
 "y":{"field":"y","type":"quantitative","scale":{"domain":[0,1122],"reverse":true,"nice":false,"zero":false},"axis":null},"detail":{"field":"t"}}},
{"data":{"name":"rn"},"mark":{"type":"line","color":"#222","strokeWidth":3},
 "encoding":{"x":{"field":"x","type":"quantitative","scale":{"domain":[0,649],"nice":false,"zero":false},"axis":null},
 "y":{"field":"y","type":"quantitative","scale":{"domain":[0,1122],"reverse":true,"nice":false,"zero":false},"axis":null},"detail":{"field":"t"}}},
{"data":{"name":"sb"},"mark":{"type":"rule","color":"#111","strokeWidth":2.2},
 "encoding":{"x":{"field":"x","type":"quantitative","scale":{"domain":[0,649],"nice":false,"zero":false},"axis":null},"x2":{"field":"x2"},
 "y":{"field":"y","type":"quantitative","scale":{"domain":[0,1122],"reverse":true,"nice":false,"zero":false},"axis":null},"y2":{"field":"y2"}}},
{"data":{"name":"lb"},"mark":{"type":"text","align":"left","baseline":"alphabetic","fontSize":25,"fontWeight":"bold","color":"#111"},
 "encoding":{"x":{"field":"x","type":"quantitative","scale":{"domain":[0,649],"nice":false,"zero":false},"axis":null},
 "y":{"field":"y","type":"quantitative","scale":{"domain":[0,1122],"reverse":true,"nice":false,"zero":false},"axis":null},"text":{"field":"text"}}},
{"data":{"name":"tl"},"mark":{"type":"text","align":"left","baseline":"alphabetic","fontSize":21,"color":"#111"},
 "encoding":{"x":{"field":"x","type":"quantitative","scale":{"domain":[0,649],"nice":false,"zero":false},"axis":null},
 "y":{"field":"y","type":"quantitative","scale":{"domain":[0,1122],"reverse":true,"nice":false,"zero":false},"axis":null},"text":{"field":"text"}}},
{"data":{"name":"ts"},"mark":{"type":"text","align":"left","baseline":"alphabetic","fontSize":14,"color":"#111"},
 "encoding":{"x":{"field":"x","type":"quantitative","scale":{"domain":[0,649],"nice":false,"zero":false},"axis":null},
 "y":{"field":"y","type":"quantitative","scale":{"domain":[0,1122],"reverse":true,"nice":false,"zero":false},"axis":null},"text":{"field":"text"}}},
{"data":{"name":"trt"},"mark":{"type":"text","align":"right","baseline":"alphabetic","fontSize":21,"color":"#111"},
 "encoding":{"x":{"field":"x","type":"quantitative","scale":{"domain":[0,649],"nice":false,"zero":false},"axis":null},
 "y":{"field":"y","type":"quantitative","scale":{"domain":[0,1122],"reverse":true,"nice":false,"zero":false},"axis":null},"text":{"field":"text"}}},
{"data":{"name":"tc"},"mark":{"type":"text","align":"center","baseline":"alphabetic","fontSize":21,"color":"#111"},
 "encoding":{"x":{"field":"x","type":"quantitative","scale":{"domain":[0,649],"nice":false,"zero":false},"axis":null},
 "y":{"field":"y","type":"quantitative","scale":{"domain":[0,1122],"reverse":true,"nice":false,"zero":false},"axis":null},"text":{"field":"text"}}}
]
}
